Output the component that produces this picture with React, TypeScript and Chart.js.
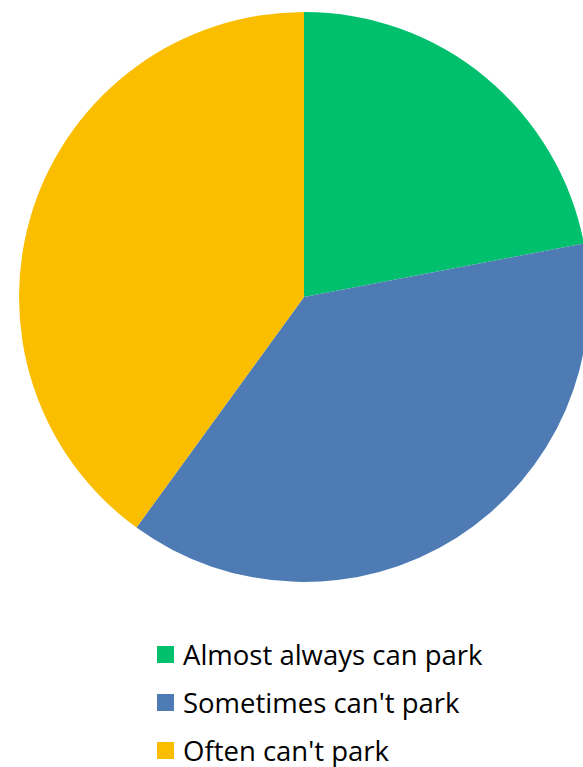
import React, { useEffect, useRef } from "react";
import { Chart, registerables } from "chart.js";

Chart.register(...registerables);

const categories = ["Almost always can park", "Sometimes can't park", "Often can't park"];
const values = [22, 38, 40];
const colors = ["#00C06E", "#4E7BB4", "#FABD00"];

export default function App() {
  const ref = useRef<HTMLCanvasElement | null>(null);
  useEffect(() => {
    if (!ref.current) return;
    const chart = new Chart(ref.current, {
      type: "pie",
      data: {
        labels: categories,
        datasets: [
          {
            data: values,
            backgroundColor: colors,
            borderWidth: 0,
          },
        ],
      },
      options: {
        responsive: false,
        animation: false,
        devicePixelRatio: 1,
        layout: { padding: { top: 12, bottom: 12, left: 0, right: 0 } },
        plugins: {
          legend: { display: false },
          tooltip: { enabled: false },
        },
      },
    });
    return () => chart.destroy();
  }, []);

  return (
    <div
      style={{
        position: "absolute",
        left: 0,
        top: 0,
        width: 583,
        height: 767,
        overflow: "hidden",
        background: "#fff",
      }}
    >
      <canvas
        ref={ref}
        width={608}
        height={594}
        style={{ position: "absolute", left: 0, top: 0, width: 608, height: 594 }}
      />
      {categories.map((c, i) => (
        <div
          key={c}
          style={{
            position: "absolute",
            left: 157,
            top: 636 + i * 48,
            height: 36,
            display: "flex",
            alignItems: "center",
            whiteSpace: "nowrap",
            fontFamily: "'Open Sans', sans-serif",
            fontSize: 27.5,
            color: "#000",
          }}
        >
          <span
            style={{
              display: "inline-block",
              width: 17,
              height: 17,
              background: colors[i],
              marginRight: 9,
            }}
          />
          <span>{c}</span>
        </div>
      ))}
    </div>
  );
}
